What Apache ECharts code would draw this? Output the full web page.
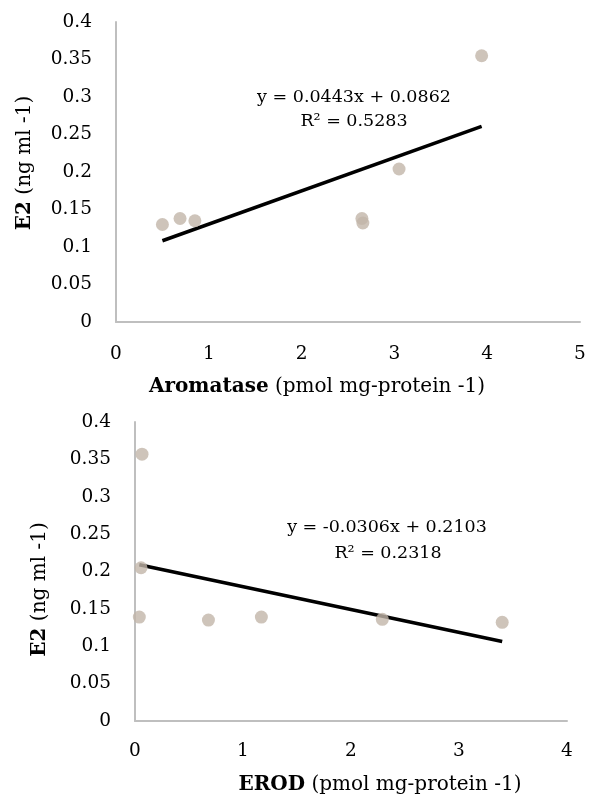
<!DOCTYPE html>
<html>
<head>
<meta charset="utf-8">
<script src="https://cdn.jsdelivr.net/npm/echarts@6/dist/echarts.min.js"></script>
<style>
html, body { margin: 0; padding: 0; background: #fff; }
#chart { width: 592px; height: 798px; }
</style>
</head>
<body>
<div id="chart"></div>
<script>
// top panel: aromatase vs E2
var aromataseX = [0.50, 0.69, 0.85, 2.65, 2.66, 3.05, 3.94];
var aromataseE2 = [0.130, 0.138, 0.135, 0.138, 0.132, 0.204, 0.355];
var aromataseFit = { slope: 0.0443, intercept: 0.0862, r2: '0.5283' };
var aromataseTicks = [0, 1, 2, 3, 4, 5];

// bottom panel: EROD vs E2
var erodX = [0.065, 0.056, 0.04, 0.68, 1.17, 2.29, 3.40];
var erodE2 = [0.357, 0.205, 0.139, 0.135, 0.139, 0.136, 0.132];
var erodFit = { slope: -0.0306, intercept: 0.2103, r2: '0.2318' };
var erodTicks = [0, 1, 2, 3, 4];

var e2Ticks = [0, 0.05, 0.1, 0.15, 0.2, 0.25, 0.3, 0.35, 0.4];

var serif = 'DejaVu Serif';

function pairs(xs, ys) {
    var out = [];
    xs.forEach(function (x, i) { out.push([x, ys[i]]); });
    return out;
}
// trendline spans the x range of the data, like Excel does
function fitLine(f, xs) {
    var a = Math.min.apply(null, xs), b = Math.max.apply(null, xs);
    return [[a, f.slope * a + f.intercept], [b, f.slope * b + f.intercept]];
}
function eqText(f) {
    var s = f.slope < 0 ? '-' + Math.abs(f.slope).toFixed(4) : f.slope.toFixed(4);
    return 'y = ' + s + 'x + ' + f.intercept.toFixed(4);
}

function xAxis(idx, ticks, title, margin, gap, pad) {
    return {
        type: 'value', gridIndex: idx,
        min: ticks[0], max: ticks[ticks.length - 1], interval: 1,
        axisLine: { show: true, lineStyle: { color: '#bfbfbf', width: 2 } },
        axisTick: { show: false },
        splitLine: { show: false },
        axisLabel: { color: '#000', fontFamily: serif, fontSize: 18.5, margin: margin },
        name: '{b|' + title + '} (pmol mg-protein -1)',
        nameLocation: 'middle', nameGap: gap,
        nameTextStyle: {
            color: '#000', fontFamily: serif, fontSize: 20, padding: pad,
            rich: { b: { fontWeight: 'bold', fontFamily: serif, fontSize: 20, color: '#000' } }
        }
    };
}
function yAxis(idx, gap, pad) {
    return {
        type: 'value', gridIndex: idx,
        min: e2Ticks[0], max: e2Ticks[e2Ticks.length - 1], interval: 0.05,
        axisLine: { show: true, lineStyle: { color: '#bfbfbf', width: 2 } },
        axisTick: { show: false },
        splitLine: { show: false },
        axisLabel: { color: '#000', fontFamily: serif, fontSize: 18.5, margin: 24,
            formatter: function (v) { return String(+v.toFixed(2)); } },
        name: '{b|E2} (ng ml -1)',
        nameLocation: 'middle', nameGap: gap, nameRotate: 90,
        nameTextStyle: {
            color: '#000', fontFamily: serif, fontSize: 20, padding: pad,
            rich: { b: { fontWeight: 'bold', fontFamily: serif, fontSize: 20, color: '#000' } }
        }
    };
}

var dotStyle = { color: '#c2b5a9' };
var lineStyle = { color: '#000', width: 3.5 };

function note(x, y, text) {
    return { type: 'text', x: x, y: y, style: { text: text, align: 'center', verticalAlign: 'middle',
        fill: '#000', font: '17.5px "' + serif + '"' } };
}

var option = {
    animation: false,
    grid: [
        { left: 116, top: 22, width: 464, height: 300 },
        { left: 135, top: 422, width: 432, height: 299 }
    ],
    xAxis: [
        xAxis(0, aromataseTicks, 'Aromatase', 23, 55, [0, 62, 0, 0]),
        xAxis(1, erodTicks, 'EROD', 21, 54, [0, 0, 0, 58])
    ],
    yAxis: [yAxis(0, 81, [0, 0, 0, 18]), yAxis(1, 85, [0, 36, 0, 0])],
    series: [
        { type: 'line', xAxisIndex: 0, yAxisIndex: 0, data: fitLine(aromataseFit, aromataseX),
          symbol: 'none', lineStyle: lineStyle, z: 1 },
        { type: 'scatter', xAxisIndex: 0, yAxisIndex: 0, data: pairs(aromataseX, aromataseE2),
          symbolSize: 13, itemStyle: dotStyle, z: 2 },
        { type: 'line', xAxisIndex: 1, yAxisIndex: 1, data: fitLine(erodFit, erodX),
          symbol: 'none', lineStyle: lineStyle, z: 1 },
        { type: 'scatter', xAxisIndex: 1, yAxisIndex: 1, data: pairs(erodX, erodE2),
          symbolSize: 13, itemStyle: dotStyle, z: 2 }
    ],
    graphic: [
        note(354, 97, eqText(aromataseFit)),
        note(354, 121, 'R² = ' + aromataseFit.r2),
        note(387, 527, eqText(erodFit)),
        note(388, 553, 'R² = ' + erodFit.r2)
    ]
};

var chart = echarts.init(document.getElementById('chart'));
chart.setOption(option);
</script>
</body>
</html>
